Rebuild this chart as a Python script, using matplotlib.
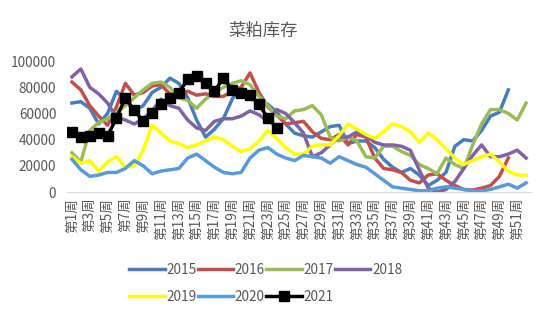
import numpy as np
import matplotlib
matplotlib.use('Agg')
import matplotlib.pyplot as plt

plt.rcParams['font.family'] = ['Noto Sans CJK SC', 'DejaVu Sans']

weeks = ['第%d周' % i for i in range(1, 53)]

s2015 = [68000, 69000, 64000, 52000, 60000, 77000, 70000, 62000, 66000, 76000,
         80000, 87000, 83000, 72000, 55000, 42000, 48000, 56000, 71000, 80000,
         72000, 69000, 67000, 61000, 52000, 45000, 43000, 42000, 46000, 50000,
         51000, 37000, 39000, 39000, 34000, 25000, 19000, 15000, 18000, 13000,
         5000, 9000, 15000, 35000, 40000, 39000, 47000, 58000, 61000, 78000]
s2016 = [84000, 78000, 66000, 58000, 51000, 65000, 83000, 74000, 76000, 81000,
         82000, 75000, 74000, 77000, 74000, 75000, 73000, 73000, 77000, 80000,
         91000, 76000, 65000, 59000, 52000, 53000, 54000, 46000, 41000, 40000,
         44000, 36000, 44000, 42000, 26000, 18000, 17000, 15000, 9000, 7000,
         13000, 14000, 9000, 5000, 2000, 1500, 3000, 5000, 12000, 26000]
s2017 = [30000, 23000, 47000, 53000, 56000, 61000, 66000, 72000, 78000, 83000,
         84000, 80000, 72000, 70000, 64000, 71000, 76000, 80000, 83000, 85000,
         82000, 73000, 66000, 58000, 56000, 62000, 63000, 66000, 59000, 42000,
         39000, 42000, 39000, 27000, 26000, 35000, 35000, 31000, 28000, 21000,
         18000, 14000, 26000, 21000, 18000, 36000, 52000, 63000, 63000, 60000,
         55000, 68000]
s2018 = [88000, 94000, 80000, 75000, 68000, 57000, 55000, 52000, 56000, 62000,
         71000, 66000, 64000, 55000, 49000, 47000, 54000, 56000, 56000, 58000,
         62000, 59000, 54000, 63000, 60000, 53000, 45000, 27000, 30000, 36000,
         42000, 42000, 46000, 43000, 38000, 36000, 36000, 35000, 32000, 17000,
         3000, 0, 2000, 8000, 18000, 28000, 36000, 27000, 27000, 29000,
         32000, 26000]
s2019 = [27000, 22000, 24000, 16000, 23000, 27000, 19000, 20000, 32000, 51000,
         45000, 39000, 37000, 34000, 36000, 39000, 42000, 40000, 35000, 31000,
         33000, 39000, 47000, 41000, 34000, 29000, 29000, 35000, 36000, 36000,
         43000, 52000, 48000, 44000, 41000, 46000, 52000, 50000, 46000, 38000,
         45000, 40000, 33000, 26000, 21000, 24000, 27000, 29000, 23000, 16000,
         13000, 13000]
s2020 = [25000, 17000, 12000, 13000, 15000, 15000, 18000, 24000, 20000, 14000,
         16000, 17000, 18000, 26000, 29000, 24000, 19000, 15000, 14000, 15000,
         26000, 32000, 34000, 29000, 26000, 24000, 28000, 27000, 26000, 22000,
         27000, 24000, 21000, 19000, 14000, 9000, 4000, 3000, 2000, 1000,
         1000, 3000, 4000, 3000, 2000, 1000, 1000, 2000, 4000, 6000,
         3000, 7000]
s2021 = [46000, 42000, 43000, 45000, 43000, 56500, 72000, 62500, 54000, 60000,
         67000, 72000, 76000, 86000, 88500, 83000, 77000, 87000, 78000, 75500,
         74000, 67000, 56500, 49000]

series = [('2015', s2015, '#4A7EBB'), ('2016', s2016, '#C0504D'),
          ('2017', s2017, '#9BBB59'), ('2018', s2018, '#8064A2'),
          ('2019', s2019, '#FFFF00'), ('2020', s2020, '#5B9BD5')]

fig = plt.figure(figsize=(5.5, 3.25), dpi=100)
ax = fig.add_axes([0.1227, 0.409, 0.842, 0.403])

for name, vals, col in series:
    ax.plot(np.arange(len(vals)), vals, color=col, lw=2.5, label=name)
ax.plot(np.arange(len(s2021)), s2021, color='black', lw=2.5, marker='s',
        markersize=6.5, label='2021')

ax.set_xlim(-0.5, len(weeks) - 0.5)
ax.set_ylim(0, 100000)
ax.set_yticks(range(0, 100001, 20000))
ax.set_xticks(range(0, len(weeks), 2))
ax.set_xticklabels(weeks[::2], rotation=90, va='top', ha='center')
ax.tick_params(axis='both', length=0, labelsize=9.8, colors='#595959')
ax.tick_params(axis='x', pad=4)
ax.tick_params(axis='y', pad=8)
for sp in ['top', 'right', 'left']:
    ax.spines[sp].set_visible(False)
ax.spines['bottom'].set_color('#D9D9D9')

fig.text(0.478, 0.905, '菜粕库存', ha='center', va='center', fontsize=12.5,
         color='#595959')

# legend filled row by row like the reference
handles, labels = ax.get_legend_handles_labels()
order = [0, 4, 1, 5, 2, 6, 3]
leg = fig.legend([handles[i] for i in order], [labels[i] for i in order],
                 ncol=4, loc='center', bbox_to_anchor=(0.483, 0.127),
                 frameon=False, fontsize=9.8, handlelength=2.6, columnspacing=0.1,
                 handletextpad=0.12, labelspacing=0.95)
for t in leg.get_texts():
    t.set_color('#595959')

fig.savefig('out.png', dpi=100)
